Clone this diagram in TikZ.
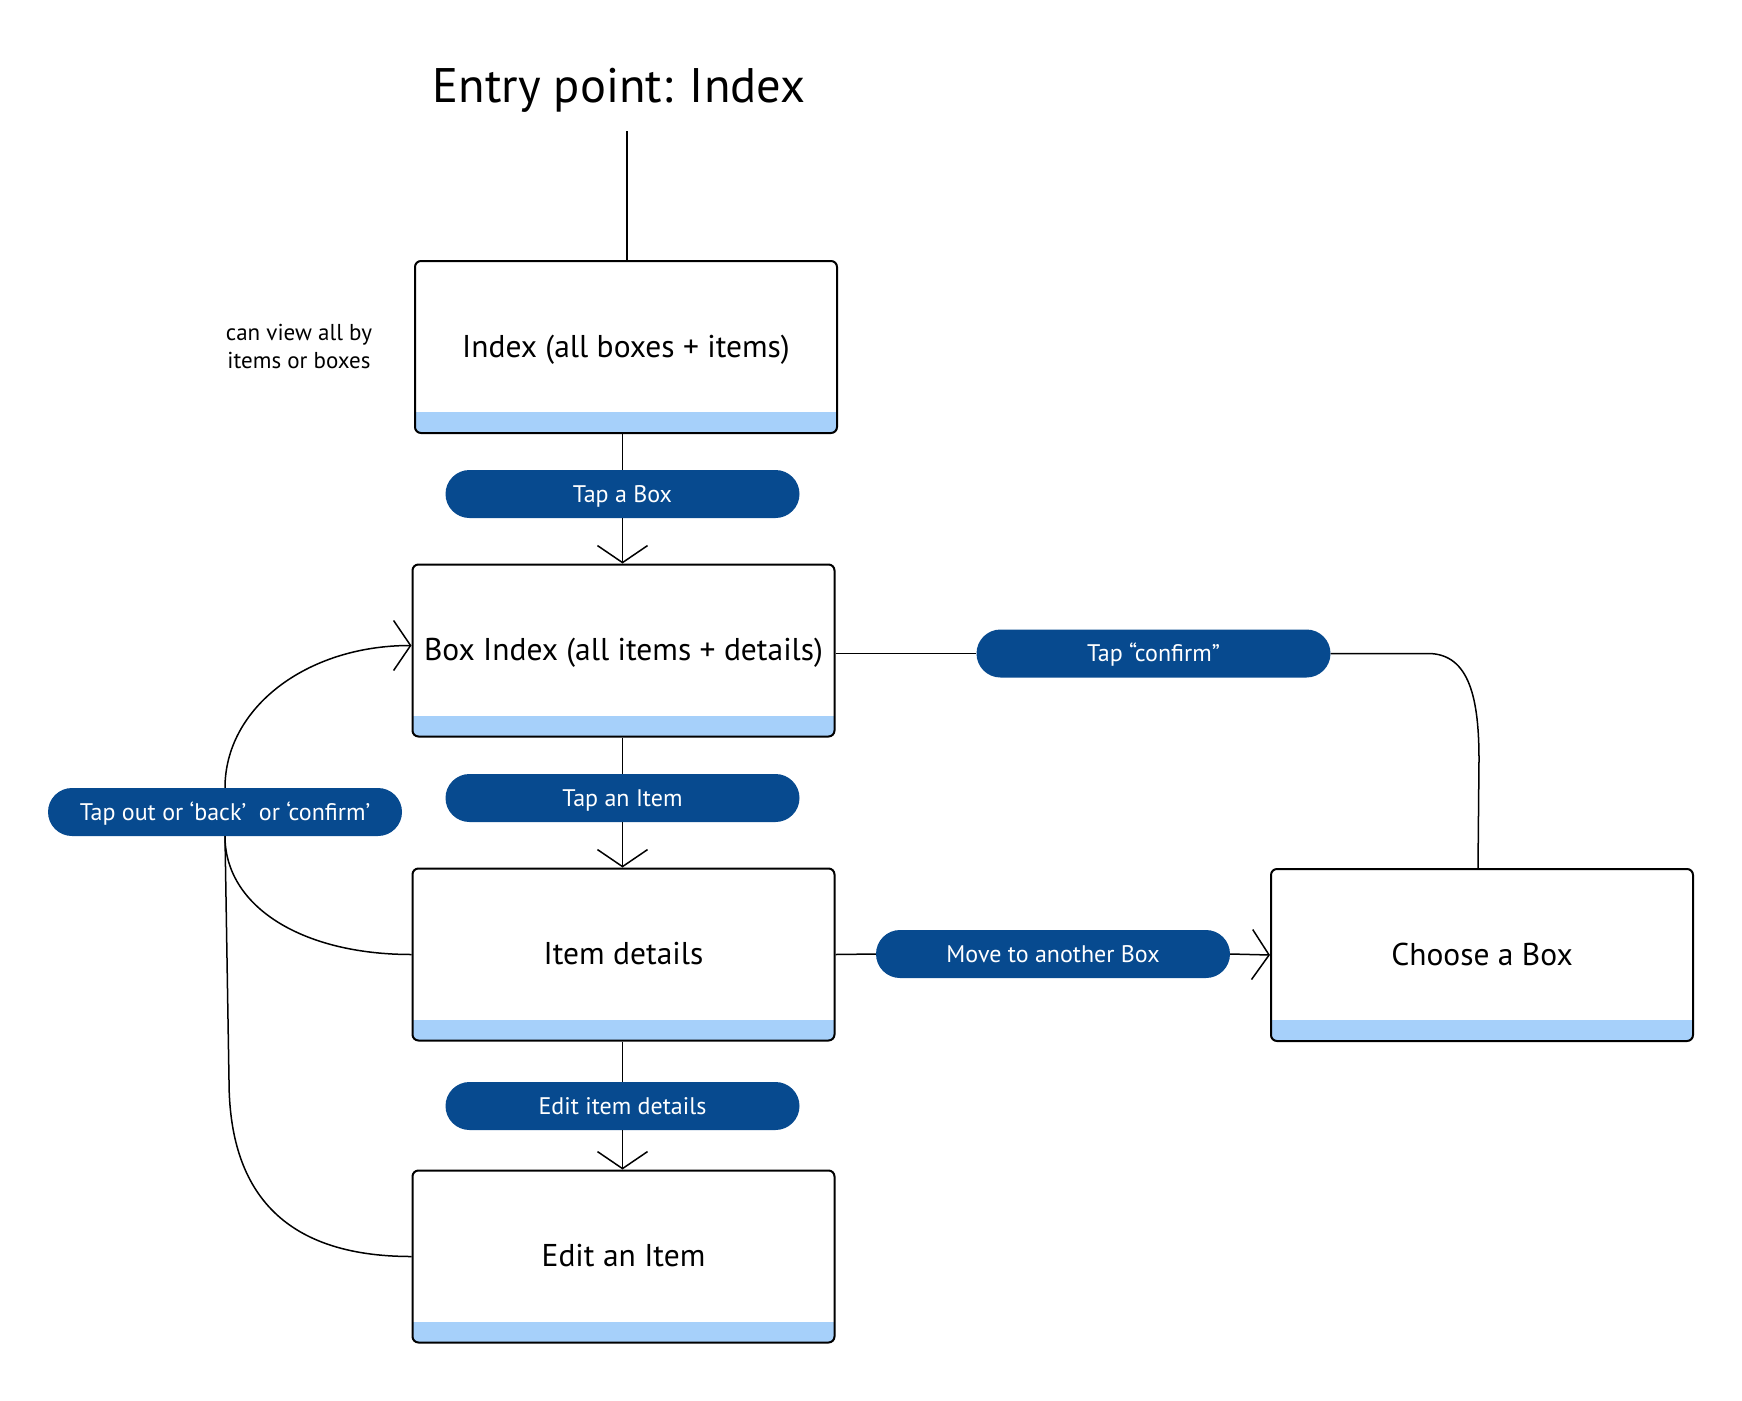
\documentclass[tikz,border=0pt]{standalone}
\usepackage{fontspec}
\setmainfont{PT Sans}
\usetikzlibrary{arrows.meta}

\definecolor{pillblue}{RGB}{7,74,143}
\definecolor{stripblue}{RGB}{166,208,250}

\tikzset{
  screen/.style={draw, line width=2pt, rounded corners=6pt,
    minimum width=422pt, minimum height=172pt, inner sep=0pt,
    text height=27pt, text depth=7pt,
    font=\fontsize{31.5}{36}\selectfont,
    path picture={\fill[stripblue, sharp corners] (path picture bounding box.south west) rectangle ([yshift=21pt]path picture bounding box.south east);}},
  action/.style={fill=pillblue, text=white, rounded corners=24pt,
    minimum width=354pt, minimum height=48pt, inner sep=0pt,
    text height=21pt, text depth=5pt,
    font=\fontsize{24}{28}\selectfont},
  link/.style={line width=1.5pt},
  linkarrow/.style={link, -{Straight Barb[length=17pt,width=50pt,line width=1.5pt]}}
}

\begin{document}
\begin{tikzpicture}[x=1pt,y=1pt,yscale=-1,xscale=1]
\useasboundingbox (0,0) rectangle (1742,1400);

% Text Node
\node[anchor=base, font=\fontsize{48.5}{52}\selectfont] (title) at (619,102) {Entry point: Index};
\coordinate (entry) at (627,131);
% Text Node
\node[align=center, font=\fontsize{23}{28}\selectfont] (note) at (299,346) {can view all by\\items or boxes};

% Screens
\node[screen] (index) at (626,347) {Index (all boxes + items)};
\node[screen] (boxidx) at (623.5,650.5) {Box Index (all items + details)};
\node[screen] (item) at (623.5,954.5) {Item details};
\node[screen] (edit) at (623.5,1256.5) {Edit an Item};
\node[screen] (choose) at (1482,955) {Choose a Box};

% Actions
\node[action] (tapbox) at (622.5,494) {Tap a Box};
\node[action] (tapitem) at (622.5,798) {Tap an Item};
\node[action] (edititem) at (622.5,1106) {Edit item details};
\node[action] (confirm) at (1153.5,653.5) {Tap “confirm”};
\node[action] (move) at (1053,954) {Move to another Box};
\node[action] (back) at (225,812) {Tap out or ‘back’\ \ or ‘confirm’};

%Straight Lines
\draw[link] (entry) -- (index.north -| entry);
\draw[link] (index.south -| tapbox.north) -- (tapbox.north);
\draw[linkarrow] (tapbox.south) -- (boxidx.north -| tapbox.south);
\draw[link] (boxidx.south -| tapitem.north) -- (tapitem.north);
\draw[linkarrow] (tapitem.south) -- (item.north -| tapitem.south);
\draw[link] (item.south -| edititem.north) -- (edititem.north);
\draw[linkarrow] (edititem.south) -- (edit.north -| edititem.south);

\draw[link] (item.east) -- (move.west);
\draw[linkarrow] (move.east) -- (choose.west);

%Curve Lines
\draw[link] (boxidx.east |- confirm.west) -- (confirm.west);
\draw[link] (confirm.east) -- (1428,653.5) .. controls (1470,653.5) and (1479,700) .. (1479,760) -- ([xshift=-4pt]choose.north);

\draw[link] (item.west) .. controls +(-110,0) and +(0,70) .. (back.south);
\draw[linkarrow] (back.north) .. controls +(0,-80) and +(-105,0) .. ([yshift=-5pt]boxidx.west);
\draw[link] (edit.west) .. controls +(-130,0) and +(0,110) .. (229,1080) -- (back.south);

\end{tikzpicture}
\end{document}
